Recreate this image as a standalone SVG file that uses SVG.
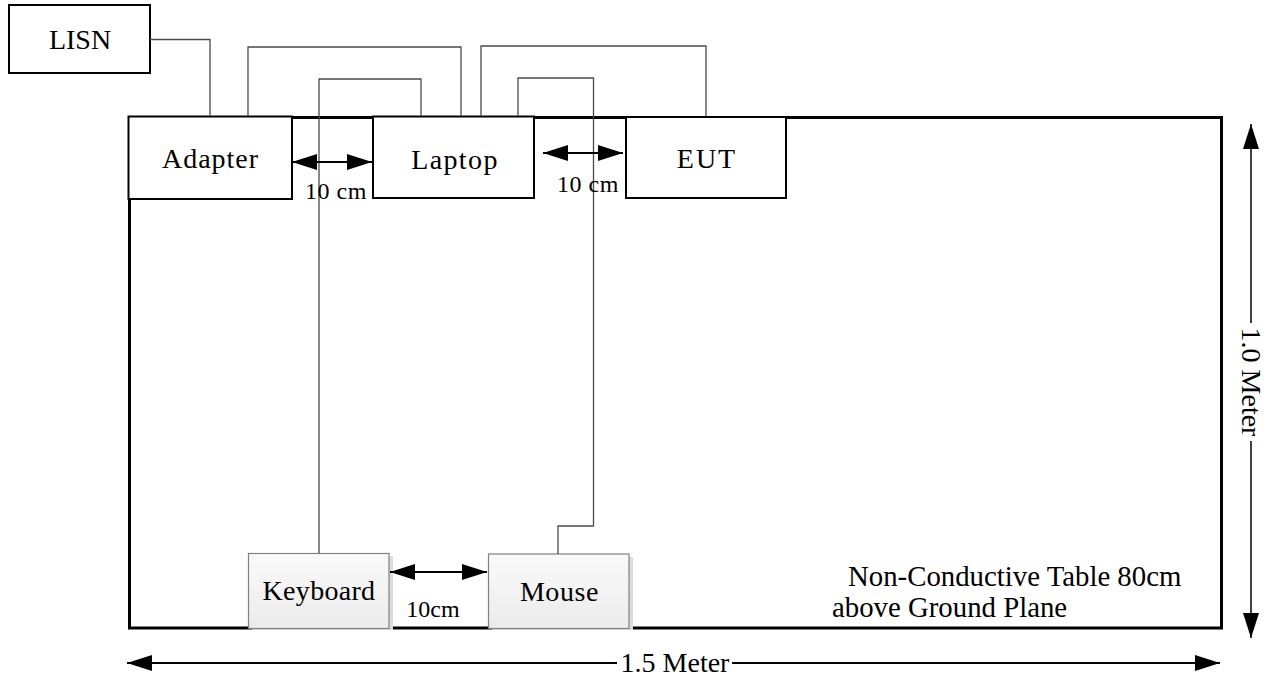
<svg xmlns="http://www.w3.org/2000/svg" width="1274" height="681" viewBox="0 0 1274 681">
<style>
text{font-family:"Liberation Serif","Times New Roman",serif;fill:#000}
.lbl{font-size:28px;text-anchor:middle}
.dim{font-size:24px;text-anchor:middle}
.box{fill:#fff;stroke:#000;stroke-width:2}
.gbox{fill:url(#gg);stroke:#808080;stroke-width:1.2}
.cable{fill:none;stroke:#4a4a4a;stroke-width:1.3}
.arr{fill:none;stroke:#000;stroke-width:2;marker-start:url(#ah);marker-end:url(#ah)}
.arr1{fill:none;stroke:#000;stroke-width:2;marker-end:url(#ah)}
</style>
<defs>
<linearGradient id="gg" x1="0" y1="0" x2="0" y2="1">
<stop offset="0" stop-color="#fafafa"/>
<stop offset="1" stop-color="#ebebeb"/>
</linearGradient>
<marker id="ah" viewBox="0 0 25 16" refX="25" refY="8" markerWidth="25" markerHeight="16" markerUnits="userSpaceOnUse" orient="auto-start-reverse">
<path d="M0,0 L25,8 L0,16 z" fill="#000"/>
</marker>
</defs>
<rect width="1274" height="681" fill="#fff"/>
<g id="table">
<rect x="129.5" y="117.5" width="1092" height="510.5" fill="none" stroke="#000" stroke-width="3"/>
</g>
<g id="LISN"><rect class="box" x="9" y="5" width="141" height="68"/><text class="lbl" x="80" y="49">LISN</text></g>
<g id="Adapter"><rect class="box" x="128.5" y="116.5" width="163.5" height="82.5"/><text class="lbl" x="210.5" y="168" letter-spacing="1">Adapter</text></g>
<g id="Laptop"><rect class="box" x="373" y="116.5" width="161" height="81.5"/><text class="lbl" x="455" y="169" letter-spacing="1.4">Laptop</text></g>
<g id="EUT"><rect class="box" x="626" y="117" width="160" height="81"/><text class="lbl" x="707" y="168" letter-spacing="2">EUT</text></g>
<g id="Keyboard"><rect x="252" y="556" width="141" height="74" fill="#dcdcdc"/><rect class="gbox" x="248.5" y="553.5" width="140.5" height="75"/><text class="lbl" x="319" y="600" letter-spacing="0.3">Keyboard</text></g>
<g id="Mouse"><rect x="492" y="557" width="141" height="73" fill="#dcdcdc"/><rect class="gbox" x="488.5" y="554" width="140.5" height="74.5"/><text class="lbl" x="559.5" y="601" letter-spacing="0.6">Mouse</text></g>
<g id="connectors">
<polyline class="cable" points="150,39.5 210,39.5 210,116"/>
<polyline class="cable" points="248,116 248,47 461,47 461,116"/>
<polyline class="cable" points="319,553 319,79 421,79 421,116"/>
<polyline class="cable" points="481,116 481,46 706,46 706,116"/>
<polyline class="cable" points="558,554 558,526 593.5,526 593.5,78 518,78 518,116"/>
<line class="arr" x1="292" y1="162" x2="372" y2="162"/>
<line class="arr" x1="543" y1="153" x2="623" y2="153"/>
<line class="arr" x1="390" y1="572" x2="487" y2="572"/>
<line class="arr1" x1="617" y1="663" x2="127" y2="663"/>
<line class="arr1" x1="732" y1="663" x2="1220" y2="663"/>
<line class="arr1" x1="1251" y1="323" x2="1251" y2="124" style="stroke-width:1.5"/>
<line class="arr1" x1="1251" y1="441" x2="1251" y2="638" style="stroke-width:1.5"/>
</g>
<g id="labels">
<text class="dim" x="336" y="199" letter-spacing="0.5">10 cm</text>
<text class="dim" x="588" y="192" letter-spacing="0.5">10 cm</text>
<text class="dim" x="433" y="617">10cm</text>
<text class="lbl" x="675" y="672">1.5 Meter</text>
<text class="lbl" transform="translate(1251,382) rotate(90)" x="0" y="9">1.0 Meter</text>
<text style="font-size:28.8px" x="848" y="586">Non-Conductive Table 80cm</text>
<text style="font-size:28.8px" x="832" y="617">above Ground Plane</text>
</g>
</svg>
